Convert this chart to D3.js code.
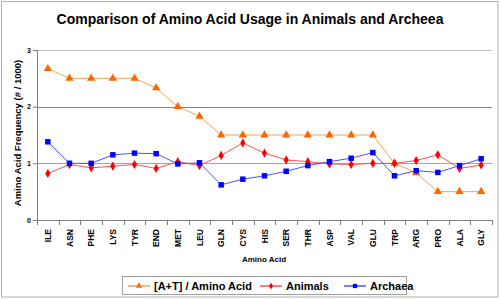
<!DOCTYPE html>
<html lang="en">
<head>
<meta charset="UTF-8">
<title>Amino Acid Usage</title>
<script src="https://d3js.org/d3.v7.min.js"></script>
<style>
  body { margin: 0; background: #fff; }
  text { font-family: Arial, "Liberation Sans", sans-serif; font-weight: bold; fill: #000; }
</style>
</head>
<body>
<div id="chart"></div>
<script>
// data
const aminoAcids = ["ILE","ASN","PHE","LYS","TYR","END","MET","LEU","GLN","CYS",
                    "HIS","SER","THR","ASP","VAL","GLU","TRP","ARG","PRO","ALA","GLY"];
const atRatio  = [2.67,2.5,2.5,2.5,2.5,2.33,2.0,1.83,1.5,1.5,1.5,1.5,1.5,1.5,1.5,1.5,1.0,0.83,0.5,0.5,0.5];
const animals  = [0.82,0.98,0.92,0.95,0.98,0.91,1.03,0.96,1.14,1.36,1.18,1.06,1.03,0.99,0.98,1.0,1.0,1.05,1.15,0.91,0.97];
const archaea  = [1.38,1.0,1.0,1.15,1.18,1.17,0.99,1.01,0.62,0.72,0.78,0.86,0.96,1.03,1.09,1.19,0.78,0.87,0.84,0.96,1.08];
const yTicks = [0, 1, 2, 3];

const series = [
  { name: "[A+T] / Amino Acid", values: atRatio, line: "#f5a05a", mark: "#ff6600", shape: d3.symbolTriangle, size: 30 },
  { name: "Animals", values: animals, line: "#ff5050", mark: "#ff0000", shape: d3.symbolDiamond, size: 24 },
  { name: "Archaea", values: archaea, line: "#5050ff", mark: "#0000ff", shape: d3.symbolSquare, size: 30 }
];

const W = 500, H = 299;
const margin = { top: 50, right: 8, bottom: 79, left: 37 };
const width = 455, height = 170;

const svg = d3.select("#chart").append("svg")
  .attr("width", W).attr("height", H);

// outer border
svg.append("rect").attr("x", 1.5).attr("y", 1.5)
  .attr("width", W - 3.5).attr("height", H - 3.5)
  .attr("fill", "none").attr("stroke", "#b0b0b0");

svg.append("text").attr("x", 250).attr("y", 24)
  .attr("text-anchor", "middle").style("font-size", "14px")
  .text("Comparison of Amino Acid Usage in Animals and Archeea");

const g = svg.append("g").attr("transform", `translate(${margin.left},${margin.top})`);

const x = d3.scaleBand().domain(aminoAcids).range([0, width]);
const y = d3.scaleLinear().domain([0, 3]).range([height, 0]);

// gridlines
const gridColor = { 1: "#a6a6a6", 2: "#808080", 3: "#c0c0c0" };
g.selectAll(".grid").data(yTicks.filter(d => d > 0)).join("line")
  .attr("x1", 0).attr("x2", width)
  .attr("y1", d => Math.round(y(d)) + 0.5).attr("y2", d => Math.round(y(d)) + 0.5)
  .attr("stroke", d => gridColor[d]);

// y axis
const yAxis = g.append("g").call(d3.axisLeft(y).tickValues(yTicks).tickSize(4).tickFormat(d3.format("d")));
yAxis.select(".domain").attr("stroke", "#808080");
yAxis.selectAll(".tick line").attr("stroke", "#808080");
yAxis.selectAll("text").style("font-size", "7px").attr("x", -6);

// x axis with ticks between categories
const xAxisG = g.append("g").attr("transform", `translate(0,${height})`);
xAxisG.append("line").attr("x1", 0).attr("x2", width).attr("y1", 0.5).attr("y2", 0.5).attr("stroke", "#808080");
xAxisG.selectAll(".xt").data(d3.range(aminoAcids.length + 1)).join("line")
  .attr("x1", i => Math.round(i * x.step()) + 0.5).attr("x2", i => Math.round(i * x.step()) + 0.5)
  .attr("y1", 0).attr("y2", 5).attr("stroke", "#808080");
xAxisG.selectAll(".xl").data(aminoAcids).join("text")
  .attr("transform", d => `translate(${x(d) + x.bandwidth() / 2 + 3},9) rotate(-90)`)
  .attr("text-anchor", "end").style("font-size", "8.5px")
  .text(d => d);

// axis titles
svg.append("text").attr("transform", `translate(21,${margin.top + height / 2 - 2}) rotate(-90)`)
  .attr("text-anchor", "middle").style("font-size", "9.5px")
  .text("Amino Acid Frequency (# / 1000)");
svg.append("text").attr("x", 264).attr("y", 262)
  .attr("text-anchor", "middle").style("font-size", "8px")
  .text("Amino Acid");

// series
const cx = i => x(aminoAcids[i]) + x.bandwidth() / 2;
const line = d3.line().x((d, i) => cx(i)).y(d => y(d));
series.forEach(s => {
  g.append("path").datum(s.values).attr("d", line)
    .attr("fill", "none").attr("stroke", s.line).attr("stroke-width", 1);
  g.selectAll(null).data(s.values).join("path")
    .attr("transform", (d, i) => `translate(${cx(i)},${y(d)})`)
    .attr("d", d3.symbol().type(s.shape).size(s.size))
    .attr("fill", s.mark);
});

// legend
const lg = svg.append("g").attr("transform", "translate(122,276)");
lg.append("rect").attr("x", 0.5).attr("y", 0.5).attr("width", 284).attr("height", 18)
  .attr("fill", "#fff").attr("stroke", "#a0a0a0");
const legendX = [6, 138, 222];
series.forEach((s, k) => {
  const item = lg.append("g").attr("transform", `translate(${legendX[k]},10)`);
  item.append("line").attr("x1", 0).attr("x2", 22).attr("stroke", s.line).attr("stroke-width", 1.5);
  item.append("path").attr("transform", "translate(11,0)")
    .attr("d", d3.symbol().type(s.shape).size(s.size * 0.6)).attr("fill", s.mark);
  item.append("text").attr("x", 26).attr("y", 4).style("font-size", "11px").text(s.name);
});
</script>
</body>
</html>
